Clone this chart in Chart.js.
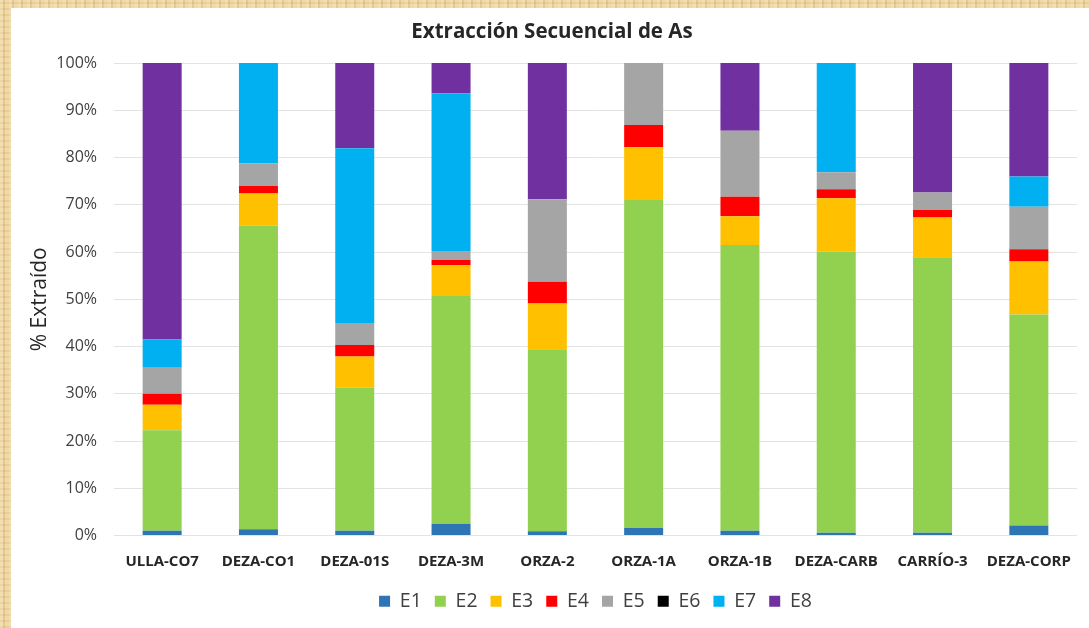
<!DOCTYPE html>
<html lang="es">
<head>
<meta charset="utf-8">
<title>Extracción Secuencial de As</title>
<script src="https://cdn.jsdelivr.net/npm/chart.js@4/dist/chart.umd.min.js"></script>
<style>
    html, body {
        margin: 0;
        padding: 0;
        width: 1089px;
        height: 628px;
        overflow: hidden;
    }
    body {
        background-color: #e8cd96;
        background-image:
            repeating-linear-gradient(90deg, rgba(255,240,200,0.35) 0 3px, rgba(190,150,80,0.18) 3px 5px, rgba(255,235,190,0.2) 5px 9px),
            repeating-linear-gradient(0deg, rgba(200,160,90,0.15) 0 2px, rgba(255,245,215,0.2) 2px 6px);
    }
    #panel {
        position: absolute;
        left: 11px;
        top: 8px;
        width: 1078px;
        height: 620px;
        background: #ffffff;
    }
</style>
</head>
<body>
<div id="panel">
    <canvas id="extraccionChart" width="1078" height="620"></canvas>
</div>
<script>
    // Muestras y fracciones de la extracción secuencial (% del As total)
    const muestras = ['ULLA-CO7', 'DEZA-CO1', 'DEZA-01S', 'DEZA-3M', 'ORZA-2', 'ORZA-1A', 'ORZA-1B', 'DEZA-CARB', 'CARRÍO-3', 'DEZA-CORP'];

    const e1 = [1.0, 1.3, 1.0, 2.5, 0.9, 1.6, 1.0, 0.6, 0.6, 2.1];
    const e2 = [21.3, 64.3, 30.3, 48.2, 38.5, 69.4, 60.5, 59.5, 58.3, 44.7];
    const e3 = [5.4, 6.8, 6.6, 6.5, 9.7, 11.2, 6.1, 11.3, 8.4, 11.2];
    const e4 = [2.3, 1.6, 2.4, 1.1, 4.6, 4.7, 4.1, 1.9, 1.6, 2.6];
    const e5 = [5.5, 4.8, 4.7, 1.9, 17.5, 13.1, 14.0, 3.6, 3.7, 9.0];
    const e6 = [0, 0, 0, 0, 0, 0, 0, 0, 0, 0];
    const e7 = [6.0, 21.2, 37.0, 33.4, 0, 0, 0, 23.1, 0, 6.4];
    const e8 = [58.5, 0, 18.0, 6.4, 28.8, 0, 14.3, 0, 27.4, 24.0];

    const fracciones = [
        { label: 'E1', data: e1, color: '#2e75b6' },
        { label: 'E2', data: e2, color: '#92d050' },
        { label: 'E3', data: e3, color: '#ffc000' },
        { label: 'E4', data: e4, color: '#ff0000' },
        { label: 'E5', data: e5, color: '#a5a5a5' },
        { label: 'E6', data: e6, color: '#000000' },
        { label: 'E7', data: e7, color: '#00b0f0' },
        { label: 'E8', data: e8, color: '#7030a0' }
    ];

    const fuente = "'Open Sans', Lato, sans-serif";

    new Chart(document.getElementById('extraccionChart'), {
        type: 'bar',
        data: {
            labels: muestras,
            datasets: fracciones.map(f => ({
                label: f.label,
                data: f.data,
                backgroundColor: f.color,
                borderWidth: 0,
                barPercentage: 0.405,
                categoryPercentage: 1
            }))
        },
        options: {
            responsive: false,
            animation: false,
            devicePixelRatio: 1,
            layout: {
                padding: { left: 16, right: 12, top: 0, bottom: 7 }
            },
            plugins: {
                title: {
                    display: true,
                    text: 'Extracción Secuencial de As',
                    color: '#262626',
                    font: { family: fuente, size: 20.5, weight: 'bold' },
                    padding: { top: 12, bottom: 18.5 }
                },
                legend: {
                    position: 'bottom',
                    fullSize: false,
                    labels: {
                        color: '#404040',
                        font: { family: fuente, size: 19.5 },
                        boxWidth: 11,
                        boxHeight: 11,
                        padding: 13
                    }
                },
                tooltip: { enabled: false }
            },
            scales: {
                x: {
                    stacked: true,
                    grid: { display: false, drawTicks: false },
                    border: { display: false },
                    ticks: {
                        color: '#262626',
                        font: { family: fuente, size: 15, weight: 'bold' },
                        padding: 17,
                        maxRotation: 0,
                        autoSkip: false
                    },
                    afterFit: function (scale) {
                        scale.height = 43;
                    }
                },
                y: {
                    stacked: true,
                    min: 0,
                    max: 100,
                    grid: { color: '#e3e3e3', lineWidth: 1, drawTicks: false },
                    border: { display: false },
                    ticks: {
                        stepSize: 10,
                        color: '#404040',
                        font: { family: fuente, size: 16 },
                        padding: 17,
                        callback: v => v + '%'
                    },
                    title: {
                        display: true,
                        text: '% Extraído',
                        color: '#262626',
                        font: { family: fuente, size: 21 },
                        padding: { top: 0.5, bottom: 0 }
                    },
                    afterFit: function (scale) {
                        scale.width = 87;
                    }
                }
            }
        }
    });
</script>
</body>
</html>
